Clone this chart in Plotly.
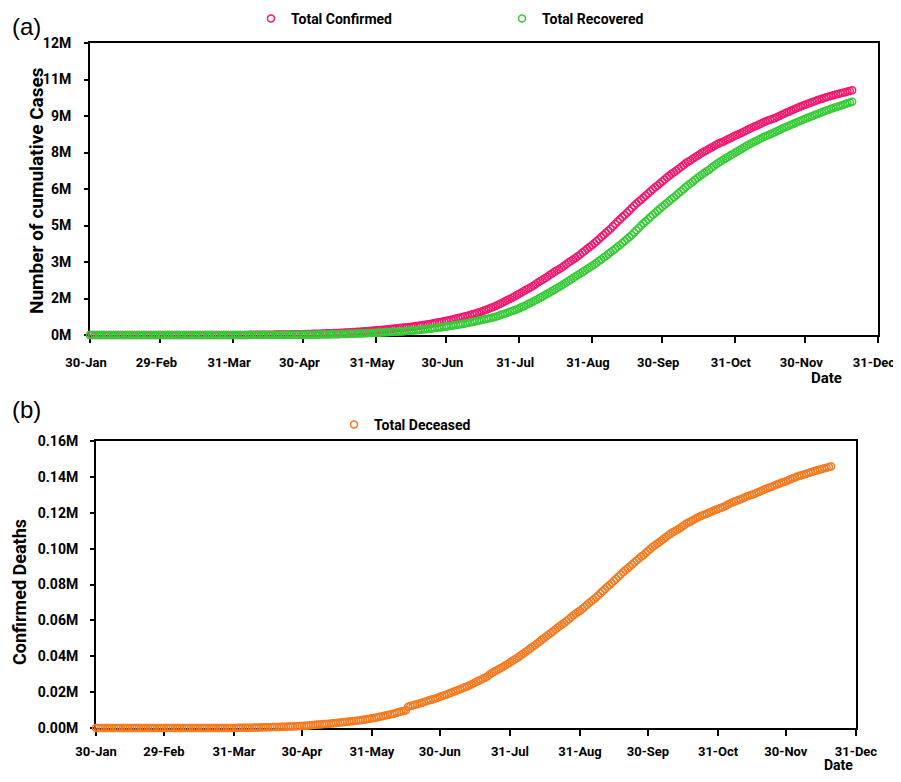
import pandas as pd
import plotly.graph_objects as go

START = "2020-01-30"

confirmed = (
    [1, 1]
    + [1, 2, 3] + [3] * 26
    + [3, 5, 6, 28, 30, 31, 34, 39, 48, 63, 71, 81, 91, 102, 112, 126, 146, 171, 198, 256, 334, 403, 497, 571, 657, 730, 883, 1019, 1139, 1326, 1635]
    + [2059, 2545, 3105, 3684, 4289, 4778, 5311, 5916, 6725, 7598, 8446, 9205, 10453, 11487, 12322, 13430, 14352, 15722, 17615, 18539, 20080, 21370, 23077, 24530, 26283, 27890, 29451, 31324, 33062, 34863]
    + [37257, 39699, 42505, 46437, 49400, 53006, 56342, 59695, 62808, 67161, 70768, 74292, 78055, 81997, 85784, 90648, 95698, 100328, 106475, 112028, 118226, 124794, 131423, 138536, 144950, 150793, 158086, 165386, 173491, 181827, 190609]
    + [198370, 207191, 216824, 226713, 236184, 246622, 257486, 265928, 276146, 286605, 297535, 308993, 320922, 332424, 343091, 354065, 366946, 380532, 395048, 410461, 425282, 440215, 456183, 473105, 490401, 508953, 528859, 548318, 566840, 585481]
    + [604641, 625544, 648315, 673165, 697413, 719665, 742417, 767296, 793802, 820916, 849553, 878254, 906752, 936181, 968876, 1003832, 1038716, 1077618, 1118043, 1155191, 1193078, 1238635, 1288108, 1337022, 1385635, 1435453, 1483156, 1531669, 1583792, 1638870, 1695988]
    + [1750723, 1803695, 1855745, 1908254, 1964536, 2027074, 2088611, 2153010, 2215074, 2268675, 2329638, 2396637, 2461190, 2525922, 2589682, 2647663, 2702742, 2767273, 2836925, 2905823, 2975701, 3044940, 3106348, 3167323, 3234474, 3310234, 3387500, 3463972, 3542733, 3621245, 3691166]
    + [3769523, 3853406, 3936747, 4023179, 4113811, 4204613, 4280422, 4370128, 4465863, 4562414, 4659984, 4754356, 4846427, 4930236, 5020359, 5118253, 5214677, 5308014, 5400619, 5487580, 5562663, 5646010, 5732518, 5818570, 5903932, 5992532, 6074702, 6145291, 6225763, 6312584]
    + [6394068, 6473544, 6549373, 6623815, 6685082, 6757131, 6835655, 6906151, 6979423, 7053806, 7120538, 7175880, 7239389, 7307097, 7370468, 7432680, 7494551, 7550273, 7597063, 7651107, 7706946, 7761312, 7814682, 7864811, 7909959, 7946429, 7990322, 8040203, 8088851, 8137119, 8184082]
    + [8229313, 8267623, 8313876, 8364086, 8411724, 8462080, 8507754, 8553657, 8591730, 8636011, 8683916, 8728795, 8773479, 8814579, 8845127, 8874290, 8912907, 8958483, 9004365, 9050597, 9095806, 9139865, 9177840, 9222216, 9266705, 9309787, 9351109, 9392919, 9431691, 9462809]
    + [9499413, 9534964, 9571559, 9608211, 9644222, 9677203, 9703770, 9735850, 9767371, 9796769, 9826775, 9857029, 9884100, 9906165, 9932547, 9956557, 9979447, 10004599, 10031223, 10055560]
)

recovered = (
    [0, 0]
    + [0] * 12 + [3] * 17
    + [3, 3, 3, 3, 3, 3, 3, 3, 4, 4, 4, 4, 10, 10, 13, 14, 15, 15, 20, 23, 23, 24, 34, 40, 43, 50, 75, 85, 102, 137, 150]
    + [169, 191, 229, 286, 328, 375, 421, 506, 620, 781, 969, 1080, 1190, 1359, 1514, 1767, 2015, 2463, 2854, 3273, 3975, 4370, 5012, 5498, 5939, 6523, 7137, 7747, 8437, 9068]
    + [10007, 10887, 11775, 12847, 14183, 15331, 16776, 17887, 19301, 20969, 22549, 26400, 27969, 30258, 34224, 36795, 39233, 42309, 45422, 48553, 51824, 54385, 57692, 60706, 64277, 67749, 71106, 77103, 82627, 86936, 91852]
    + [95754, 100285, 104071, 108450, 113233, 118695, 124095, 129215, 134670, 141029, 147195, 154330, 162379, 169798, 180320, 186935, 194325, 204711, 213831, 227728, 237196, 248190, 258685, 271697, 285636, 295881, 309713, 321774, 334822, 347979]
    + [359860, 379892, 394227, 409083, 424433, 439948, 456831, 476378, 495513, 515386, 534621, 553471, 571460, 592031, 612815, 635757, 653751, 677423, 700087, 724702, 753050, 782606, 817208, 849432, 885573, 917568, 952743, 987999, 1019735, 1057805, 1094374]
    + [1145629, 1186203, 1230509, 1282215, 1328336, 1377384, 1427669, 1480884, 1535743, 1583489, 1639599, 1695982, 1751555, 1808936, 1862258, 1919842, 1977671, 2037870, 2096664, 2157941, 2222577, 2280566, 2338035, 2404585, 2467252, 2523771, 2583948, 2648998, 2713933, 2774801, 2839882]
    + [2901908, 2970492, 3037151, 3107223, 3180865, 3250429, 3323950, 3398844, 3471783, 3542663, 3624196, 3702595, 3780107, 3859399, 3942360, 4025079, 4112551, 4208431, 4303043, 4396399, 4497867, 4587613, 4674987, 4756164, 4849584, 4941627, 5016520, 5101397, 5187825, 5273201]
    + [5352078, 5427706, 5509966, 5586703, 5662490, 5744693, 5827704, 5908748, 5988822, 6077976, 6149535, 6224792, 6301927, 6380680, 6453779, 6524595, 6597209, 6663608, 6733328, 6795103, 6874518, 6948497, 7015042, 7078123, 7137228, 7201070, 7258879, 7315989, 7373375, 7432829, 7491513]
    + [7544798, 7603121, 7656478, 7714336, 7774180, 7826209, 7878545, 7928286, 7975393, 8026145, 8075283, 8124573, 8169843, 8213219, 8248998, 8289232, 8335109, 8383602, 8428409, 8474198, 8519707, 8561779, 8599977, 8637849, 8681016, 8723266, 8765474, 8803755, 8845315, 8888547]
    + [8925874, 8962711, 9000349, 9036790, 9076149, 9114004, 9153064, 9190498, 9225562, 9261329, 9293862, 9326586, 9357810, 9390846, 9422636, 9455465, 9489740, 9524133, 9554941, 9583927]
)

deceased = (
    [0, 0]
    + [0] * 29
    + [0] * 11 + [1, 2, 2, 2, 2, 3, 3, 4, 5, 6, 7, 10, 11, 15, 20, 24, 27, 32, 47, 52]
    + [66, 75, 91, 111, 126, 145, 176, 206, 232, 274, 310, 339, 370, 405, 432, 460, 496, 529, 568, 600, 650, 689, 728, 784, 831, 883, 941, 1013, 1083, 1153]
    + [1225, 1323, 1399, 1574, 1694, 1792, 1889, 1986, 2101, 2212, 2294, 2415, 2551, 2649, 2753, 2871, 3025, 3156, 3302, 3434, 3584, 3726, 3868, 4021, 4171, 4337, 4531, 4706, 4980, 5164, 5394]
    + [5608, 5829, 6088, 6363, 6649, 6946, 7207, 7473, 7750, 8102, 8498, 8884, 9195, 9520, 9900, 11903, 12237, 12605, 12948, 13254, 13699, 14011, 14476, 14894, 15301, 15685, 16095, 16475, 16893, 17400]
    + [17834, 18213, 18655, 19268, 19693, 20160, 20642, 21129, 21604, 22123, 22674, 23174, 23727, 24309, 24915, 25602, 26273, 26816, 27497, 28082, 28732, 29861, 30601, 31358, 32060, 32771, 33408, 34193, 34955, 35718, 36500]
    + [37364, 38135, 38938, 39795, 40699, 41585, 42518, 43379, 44386, 45353, 46188, 47138, 48144, 49134, 50084, 51045, 51925, 52889, 53866, 54849, 55928, 56846, 57692, 58546, 59612, 60629, 61694, 62713, 63657, 64617, 65435]
    + [66460, 67472, 68569, 69635, 70626, 71642, 72775, 73890, 75091, 76271, 77472, 78614, 79722, 80776, 82066, 83230, 84404, 85625, 86774, 87882, 88935, 90020, 91149, 92317, 93379, 94503, 95574, 96351, 97529, 98708]
    + [99804, 100842, 101782, 102685, 103600, 104555, 105526, 106490, 107416, 108334, 109150, 109856, 110586, 111266, 112161, 112998, 114031, 114610, 115197, 115914, 116616, 117306, 117956, 118534, 119014, 119502, 120010, 120527, 121090, 121641, 122111]
    + [122607, 123097, 123611, 124315, 124985, 125562, 126121, 126611, 127059, 127571, 128121, 128668, 129188, 129635, 130070, 130519, 131031, 131578, 132162, 132726, 133227, 133738, 134218, 134699, 135223, 135715, 136200, 136696, 137139, 137621]
    + [138122, 138648, 139188, 139700, 140182, 140573, 140958, 141360, 141772, 142222, 142628, 143055, 143355, 143709, 144096, 144451, 144789, 145136, 145477, 145810]
)

x_tick_dates = ["2020-01-30", "2020-02-29", "2020-03-31", "2020-04-30", "2020-05-31", "2020-06-30",
                "2020-07-31", "2020-08-31", "2020-09-30", "2020-10-31", "2020-11-30", "2020-12-31"]
x_tick_labels = ["30-Jan", "29-Feb", "31-Mar", "30-Apr", "31-May", "30-Jun",
                 "31-Jul", "31-Aug", "30-Sep", "31-Oct", "30-Nov", "31-Dec"]

cases_tick_vals = [0, 1.5e6, 3e6, 4.5e6, 6e6, 7.5e6, 9e6, 10.5e6, 12e6]
cases_tick_labels = ["0M", "2M", "3M", "5M", "6M", "8M", "9M", "11M", "12M"]

deaths_tick_vals = [0, 0.02e6, 0.04e6, 0.06e6, 0.08e6, 0.10e6, 0.12e6, 0.14e6, 0.16e6]
deaths_tick_labels = ["0.00M", "0.02M", "0.04M", "0.06M", "0.08M", "0.10M", "0.12M", "0.14M", "0.16M"]

dates_c = pd.date_range(START, periods=len(confirmed))
dates_r = pd.date_range(START, periods=len(recovered))
dates_d = pd.date_range(START, periods=len(deceased))

# the page body adds an 8px margin around the figure; keep the page from scrolling
OFF = 8
W, H = 901 - OFF, 782 - 2 * OFF
FONT = "Roboto, Lato, sans-serif"
PINK = "#F2186F"
GREEN = "#36CB36"
ORANGE = "#F47A20"

def px_x(p):
    return (p - OFF) / W

def px_y(p):
    return 1 - (p - OFF) / H

fig = go.Figure()

mk = dict(symbol="circle-open", size=7, line=dict(width=1.5))
fig.add_trace(go.Scatter(x=dates_c, y=confirmed, mode="markers", name="Total Confirmed",
                         marker=dict(color=PINK, **mk), xaxis="x", yaxis="y",
                         cliponaxis=False, legend="legend"))
fig.add_trace(go.Scatter(x=dates_r, y=recovered, mode="markers", name="Total Recovered",
                         marker=dict(color=GREEN, **mk), xaxis="x", yaxis="y",
                         cliponaxis=False, legend="legend2"))
fig.add_trace(go.Scatter(x=dates_d, y=deceased, mode="markers", name="Total Deceased",
                         marker=dict(color=ORANGE, **mk), xaxis="x2", yaxis="y2",
                         cliponaxis=False, legend="legend3"))

YTICKFONT = dict(family=FONT, size=14, color="black", weight="bold")
XTICKFONT = dict(family=FONT, size=13, color="black", weight="bold")
axis_common = dict(showline=True, linecolor="black", linewidth=2, mirror=True,
                   showgrid=False, zeroline=False, ticks="outside", tickcolor="black",
                   tickwidth=1.5, automargin=False, layer="below traces")

xrange = ["2020-01-30", "2020-12-31"]

fig.update_layout(
    width=W, height=H,
    paper_bgcolor="white", plot_bgcolor="white",
    margin=dict(l=0, r=0, t=0, b=0, autoexpand=False),
    showlegend=True,
    font=dict(family=FONT, color="black"),
    xaxis=dict(domain=[px_x(90), px_x(878)], anchor="y", type="date", range=xrange,
               tickvals=x_tick_dates, ticktext=x_tick_labels, ticklen=6, tickfont=XTICKFONT,
               ticklabelstandoff=8, ticklabelshift=-4, **axis_common),
    yaxis=dict(domain=[px_y(335), px_y(43)], anchor="x", range=[0, 12e6],
               tickvals=cases_tick_vals, ticktext=cases_tick_labels, ticklen=4, tickfont=YTICKFONT,
               ticklabelstandoff=10, **axis_common),
    xaxis2=dict(domain=[px_x(96), px_x(856)], anchor="y2", type="date", range=xrange,
                tickvals=x_tick_dates, ticktext=x_tick_labels, ticklen=6, tickfont=XTICKFONT,
                ticklabelstandoff=4, **axis_common),
    yaxis2=dict(domain=[px_y(728), px_y(441)], anchor="x2", range=[0, 0.16e6],
                tickvals=deaths_tick_vals, ticktext=deaths_tick_labels, ticklen=4, tickfont=YTICKFONT,
                ticklabelstandoff=9, **axis_common),
)

leg_common = dict(orientation="h", bgcolor="rgba(0,0,0,0)", xanchor="left", yanchor="middle",
                  font=dict(family=FONT, size=14, color="black", weight="bold"),
                  itemwidth=30, tracegroupgap=0)
fig.update_layout(
    legend=dict(x=px_x(251), y=px_y(19), **leg_common),
    legend2=dict(x=px_x(502), y=px_y(19), **leg_common),
    legend3=dict(x=px_x(334), y=px_y(425), **leg_common),
)

fig.add_annotation(text="Number of cumulative Cases", x=px_x(36), y=px_y(191), xref="paper", yref="paper",
                   textangle=-90, showarrow=False, font=dict(family=FONT, size=19, color="black", weight="bold"),
                   xanchor="center", yanchor="middle")
fig.add_annotation(text="Confirmed Deaths", x=px_x(19), y=px_y(592), xref="paper", yref="paper",
                   textangle=-90, showarrow=False, font=dict(family=FONT, size=18, color="black", weight="bold"),
                   xanchor="center", yanchor="middle")
fig.add_annotation(text="Date", x=px_x(826), y=px_y(378), xref="paper", yref="paper",
                   showarrow=False, font=dict(family=FONT, size=15, color="black", weight="bold"),
                   xanchor="center", yanchor="middle")
fig.add_annotation(text="Date", x=px_x(838), y=px_y(765), xref="paper", yref="paper",
                   showarrow=False, font=dict(family=FONT, size=14, color="black", weight="bold"),
                   xanchor="center", yanchor="middle")
lab_font = dict(family="Liberation Sans, Arial, sans-serif", size=24, color="black")
fig.add_annotation(text="(a)", x=px_x(10), y=px_y(26), xref="paper", yref="paper",
                   showarrow=False, font=lab_font, xanchor="left", yanchor="middle")
fig.add_annotation(text="(b)", x=px_x(10), y=px_y(410), xref="paper", yref="paper",
                   showarrow=False, font=lab_font, xanchor="left", yanchor="middle")

fig.write_html("out.html")
